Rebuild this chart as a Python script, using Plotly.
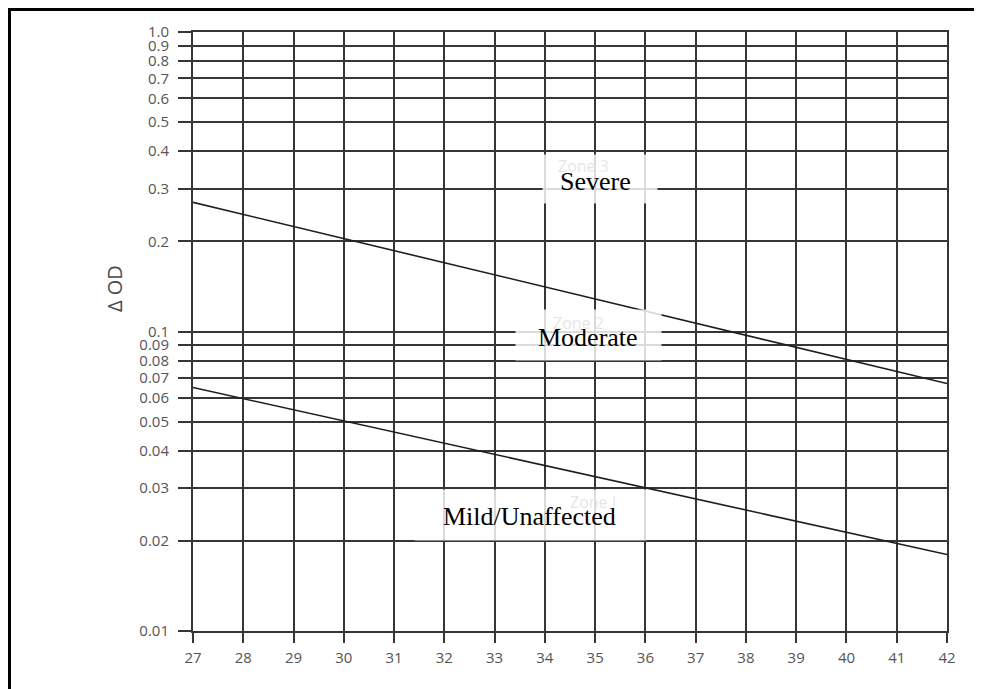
import math
import plotly.graph_objects as go

# Data
gest_weeks = [27, 42]
upper_boundary = [0.27, 0.067]
lower_boundary = [0.065, 0.018]

x_ticks = list(range(27, 43))
y_ticks = [0.01, 0.02, 0.03, 0.04, 0.05, 0.06, 0.07, 0.08, 0.09,
           0.1, 0.2, 0.3, 0.4, 0.5, 0.6, 0.7, 0.8, 0.9, 1.0]
y_tick_text = ["0.01", "0.02", "0.03", "0.04", "0.05", "0.06", "0.07", "0.08", "0.09",
               "0.1", "0.2", "0.3", "0.4", "0.5", "0.6", "0.7", "0.8", "0.9", "1.0"]

zone_labels = ["Severe", "Moderate", "Mild/Unaffected"]
zone_x = [35.1, 34.86, 33.72]
zone_y = [0.323, 0.0973, 0.0244]
zone_box_w = [114, 145, 231]
zone_box_h = [48, 50, 50]
faint_labels = ["Zone 3", "Zone 2", "Zone I"]

GRID = "#363636"
fig = go.Figure()

fig.add_trace(go.Scatter(x=gest_weeks, y=upper_boundary, mode="lines",
                         line=dict(color="#1e1e1e", width=1.6), showlegend=False))
fig.add_trace(go.Scatter(x=gest_weeks, y=lower_boundary, mode="lines",
                         line=dict(color="#1e1e1e", width=1.6), showlegend=False))

tickfont = dict(family="Open Sans, Noto Sans, sans-serif", size=15, color="#555555")

fig.update_xaxes(range=[27, 42], tickvals=x_ticks, ticktext=[str(v) for v in x_ticks],
                 showgrid=True, gridcolor=GRID, gridwidth=2,
                 ticks="outside", ticklen=10, tickwidth=2, tickcolor=GRID,
                 showline=True, linecolor=GRID, linewidth=2, mirror=True,
                 zeroline=False, tickfont=tickfont, ticklabelstandoff=2)
fig.update_yaxes(type="log", range=[-2, 0], tickvals=y_ticks, ticktext=y_tick_text,
                 showgrid=True, gridcolor=GRID, gridwidth=2,
                 ticks="outside", ticklen=13, tickwidth=2, tickcolor=GRID,
                 showline=True, linecolor=GRID, linewidth=2, mirror=True,
                 zeroline=False, tickfont=tickfont, ticklabelstandoff=6)

text_shift = [(-5, -3), (0, -2), (-1, -2)]
faint_shift = [(-17, 13), (-10, 12), (62, 13)]

annotations = []
for lab, fx, fy, w, h, faint, ts, fs in zip(zone_labels, zone_x, zone_y, zone_box_w,
                                             zone_box_h, faint_labels, text_shift, faint_shift):
    ly = math.log10(fy)  # annotation coords on log axes are in log10 units
    annotations.append(dict(x=fx, y=ly, xref="x", yref="y", yanchor="middle", text=" ",
                            showarrow=False, width=w, height=h, borderpad=0,
                            bgcolor="rgba(255,255,255,0.82)"))
    annotations.append(dict(x=fx, y=ly, xref="x", yref="y", text=faint, showarrow=False,
                            xshift=fs[0], yshift=fs[1],
                            font=dict(family="Open Sans, sans-serif", size=16, color="#e6e6e6")))
    annotations.append(dict(x=fx, y=ly, xref="x", yref="y", text=lab, showarrow=False,
                            xshift=ts[0], yshift=ts[1],
                            font=dict(family="Liberation Serif, Times New Roman, serif",
                                      size=26, color="#000000")))

annotations.append(dict(x=-0.1034, y=0.571, xref="paper", yref="paper", text="Δ OD",
                        textangle=-90, showarrow=False, xanchor="center", yanchor="middle",
                        font=dict(family="Open Sans, Noto Sans, sans-serif", size=20, color="#4a4a4a")))
fig.update_layout(annotations=annotations)

# outer frame
fig.add_shape(type="rect", xref="paper", yref="paper", x0=-0.2434, x1=1.08, y0=-0.2, y1=1.0376,
              line=dict(color="black", width=3), fillcolor="rgba(0,0,0,0)", layer="below")

fig.update_layout(width=974, height=681,
                  margin=dict(l=185, r=35, t=24, b=58),
                  paper_bgcolor="white", plot_bgcolor="white",
                  showlegend=False)

fig.write_html("out.html")
